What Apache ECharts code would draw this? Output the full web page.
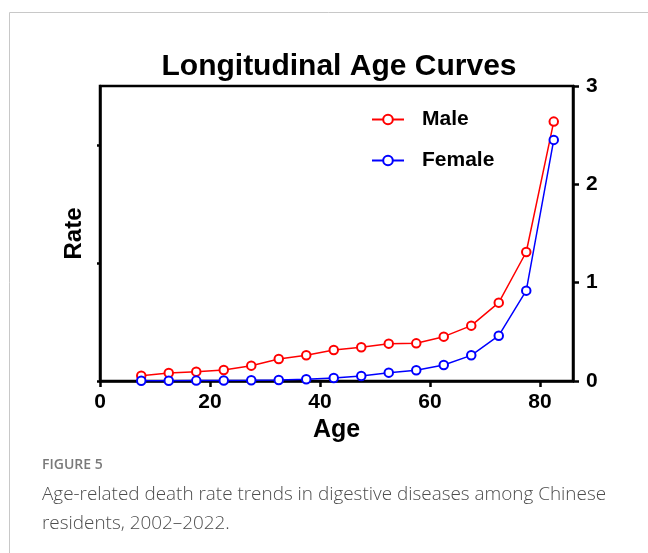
<!DOCTYPE html>
<html>
<head>
<meta charset="utf-8">
<script src="https://cdn.jsdelivr.net/npm/echarts@6/dist/echarts.min.js"></script>
<style>
html,body{margin:0;padding:0;background:#fff;}
#c{width:648px;height:553px;}
</style>
</head>
<body>
<div id="c"></div>
<script>
const ages = [7.5, 12.5, 17.5, 22.5, 27.5, 32.5, 37.5, 42.5, 47.5, 52.5, 57.5, 62.5, 67.5, 72.5, 77.5, 82.5];
const maleRate = [0.054, 0.081, 0.095, 0.112, 0.156, 0.224, 0.261, 0.315, 0.343, 0.380, 0.383, 0.451, 0.563, 0.797, 1.312, 2.638];
const femaleRate = [0.003, 0.003, 0.004, 0.005, 0.007, 0.010, 0.018, 0.030, 0.051, 0.085, 0.109, 0.163, 0.261, 0.461, 0.919, 2.452];
const xTicks = [0, 20, 40, 60, 80];
const rightTicks = [0, 1, 2, 3];
const leftTicks = [0, 1, 2];

const F = 'Liberation Sans, Arial, Helvetica, sans-serif';
const chart = echarts.init(document.getElementById('c'));
const pair = (xs, ys) => xs.map((x, i) => [x, ys[i]]);

chart.setOption({
  animation: false,
  backgroundColor: '#fff',
  title: {
    text: 'Longitudinal Age Curves',
    left: 334, top: 47, textAlign: 'center',
    textStyle: { fontFamily: F, fontWeight: 'bold', fontSize: 30, color: '#000' }
  },
  grid: { left: 100, right: 75, top: 86, bottom: 172, show: true, borderColor: '#000', borderWidth: 2.5 },
  legend: {
    orient: 'vertical', left: 366, top: 104, itemGap: 20,
    itemWidth: 32, itemHeight: 12,
    textStyle: { fontFamily: F, fontWeight: 'bold', fontSize: 21, color: '#000', padding: [0, 0, 0, 13] },
    data: ['Male', 'Female']
  },
  xAxis: {
    type: 'value', min: 0, max: 86, interval: 20,
    name: 'Age', nameLocation: 'middle', nameGap: 34,
    nameTextStyle: { fontFamily: F, fontWeight: 'bold', fontSize: 25, color: '#000' },
    axisLine: { lineStyle: { color: '#000', width: 2.5 } },
    axisTick: { length: 6, lineStyle: { color: '#000', width: 2.5 }, customValues: xTicks },
    axisLabel: { margin: 11, fontFamily: F, fontWeight: 'bold', fontSize: 21, color: '#000', customValues: xTicks },
    splitLine: { show: false }
  },
  yAxis: [{
    type: 'value', min: 0, max: 2.5, interval: 1, position: 'left',
    name: 'Rate', nameLocation: 'middle', nameGap: 14, nameRotate: 90,
    nameTextStyle: { fontFamily: F, fontWeight: 'bold', fontSize: 24, color: '#000' },
    axisLine: { show: true, lineStyle: { color: '#000', width: 2.5 } },
    axisTick: { show: true, length: 3, lineStyle: { color: '#000', width: 2.5 }, customValues: leftTicks },
    axisLabel: { show: false },
    splitLine: { show: false }
  }, {
    type: 'value', min: 0, max: 3, interval: 1, position: 'right',
    axisLine: { show: true, lineStyle: { color: '#000', width: 2.5 } },
    axisTick: { show: true, length: 6, lineStyle: { color: '#000', width: 2.5 }, customValues: rightTicks },
    axisLabel: { margin: 13, fontFamily: F, fontWeight: 'bold', fontSize: 21, color: '#000', customValues: rightTicks },
    splitLine: { show: false }
  }],
  series: [{
    name: 'Male', type: 'line', yAxisIndex: 1,
    data: pair(ages, maleRate),
    symbol: 'emptyCircle', symbolSize: 8.5,
    itemStyle: { color: '#ff0000', borderWidth: 2.8 },
    lineStyle: { color: '#ff0000', width: 1.5 }
  }, {
    name: 'Female', type: 'line', yAxisIndex: 1,
    data: pair(ages, femaleRate),
    symbol: 'emptyCircle', symbolSize: 8.5,
    itemStyle: { color: '#0000ff', borderWidth: 2.8 },
    lineStyle: { color: '#0000ff', width: 1.5 }
  }],
  graphic: [
    { type: 'line', shape: { x1: 9.5, y1: 12.5, x2: 648, y2: 12.5 }, style: { stroke: '#c8c8c8', lineWidth: 1 } },
    { type: 'line', shape: { x1: 9.5, y1: 12.5, x2: 9.5, y2: 553 }, style: { stroke: '#c8c8c8', lineWidth: 1 } },
    { type: 'text', left: 42, top: 458, style: { text: 'FIGURE 5', font: '600 14px "Open Sans", sans-serif', fill: '#7a7a7a' } },
    { type: 'text', left: 42, top: 485, style: { text: 'Age-related death rate trends in digestive diseases among Chinese', font: '300 18.9px "Open Sans", sans-serif', fill: '#4d4d4d' } },
    { type: 'text', left: 42, top: 514, style: { text: 'residents, 2002\u20132022.', font: '300 18.9px "Open Sans", sans-serif', fill: '#4d4d4d' } }
  ]
});
</script>
</body>
</html>
